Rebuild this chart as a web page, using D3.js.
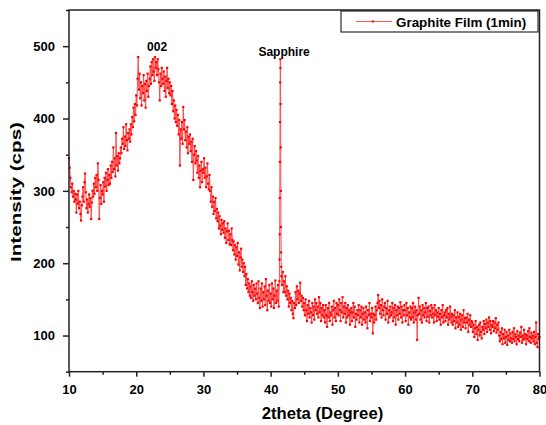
<!DOCTYPE html>
<html>
<head>
<meta charset="utf-8">
<script src="https://cdn.jsdelivr.net/npm/d3@7"></script>
<style>
body { margin:0; background:#fff; }
svg text { font-family:"Liberation Sans", Arial, sans-serif; font-weight:bold; fill:#000; }
</style>
</head>
<body>
<svg width="546" height="425"></svg>
<script>
//scan settings
var thetaStart = 10;
var thetaStep = 0.1;

//counts, 10 to 80 degrees, one row per degree
var counts = [
345,332,318,305,298,310,292,300,285,296,
288,270,295,282,300,276,285,268,259,280,
292,305,285,312,324,298,276,288,270,282,
295,278,290,261,284,300,292,310,296,318,
305,322,300,338,315,261,290,308,282,300,
295,312,285,318,306,325,300,315,330,308,
322,310,335,318,340,326,360,330,345,320,
380,335,348,328,352,338,345,360,352,372,
365,388,358,375,362,392,370,356,380,372,
385,368,392,378,402,388,415,396,420,405,
432,418,455,485,440,462,428,450,418,445,
435,460,425,448,415,452,438,462,430,445,
455,472,448,478,460,482,465,452,485,470,
478,460,482,468,450,425,462,445,470,455,
448,465,438,458,430,452,470,442,455,435,
450,432,445,420,438,410,425,400,418,395,
412,390,405,378,398,335,385,372,395,365,
416,385,398,370,382,360,388,352,375,365,
378,355,368,340,372,315,350,362,338,355,
342,325,348,318,335,305,328,340,312,330,
325,345,318,332,305,320,338,310,302,322,
300,285,305,278,292,268,285,272,290,262,
275,258,270,248,265,252,240,260,246,255,
242,258,235,248,228,244,255,232,245,226,
240,225,248,232,218,230,212,225,205,222,
210,228,198,215,190,208,220,195,205,188,
200,182,195,170,185,165,178,160,172,155,
168,152,175,160,148,170,155,165,150,172,
158,145,175,152,138,165,148,172,140,160,
150,168,142,178,155,135,162,148,170,145,
158,140,172,150,165,138,155,176,145,162,
148,170,140,175,395,360,182,170,188,160,
175,160,182,155,168,150,162,140,158,145,
152,135,148,130,124,145,138,160,142,168,
150,162,145,158,173,148,155,140,152,135,
145,128,150,135,120,142,130,148,125,138,
132,118,145,128,140,122,150,135,145,130,
140,125,153,132,145,120,138,128,142,125,
135,118,142,128,112,138,125,145,120,132,
128,140,115,135,148,125,138,120,145,130,
142,128,150,135,120,145,132,153,125,140,
130,145,118,138,125,142,128,135,115,132,
138,120,132,145,125,140,112,130,122,135,
128,142,118,135,125,140,115,130,138,122,
132,118,140,125,110,135,128,145,120,130,
125,138,103,130,118,128,140,122,135,145,
156,138,148,130,142,125,150,135,128,140,
145,122,138,130,148,118,135,125,140,128,
132,145,120,138,125,142,115,135,128,140,
122,138,130,146,125,140,118,135,128,142,
135,120,145,128,138,115,132,125,140,122,
138,125,145,118,132,140,122,135,94,128,
152,130,140,122,135,118,142,128,138,125,
132,145,120,138,126,140,118,134,128,142,
125,138,130,118,142,128,135,120,132,126,
138,122,130,115,135,125,142,118,128,132,
120,135,125,138,115,130,122,140,126,118,
130,115,128,120,135,110,125,118,132,112,
126,115,130,108,122,128,112,135,118,124,
110,125,118,130,105,122,115,128,112,120,
118,105,115,98,110,120,102,112,94,108,
115,100,118,105,96,112,108,120,102,116,
110,122,105,118,112,125,108,120,103,115,
112,120,106,118,110,124,104,115,108,118,
100,92,105,95,110,88,102,96,108,90,
98,105,87,100,94,108,92,103,96,90,
105,95,110,92,102,98,88,106,95,100,
92,104,98,112,90,100,94,108,96,102,
88,100,95,106,92,110,98,90,104,96,
100,92,105,88,98,118,90,84,102,95,
98
];

//finer points on the sapphire peak
var peakTheta = [41.32,41.34,41.36,41.38,41.42,41.44,41.46,41.48,41.52,41.54,41.56,41.58];
var peakCounts = [205,240,290,340,450,482,470,420,300,250,215,195];

var xTicks = [10,20,30,40,50,60,70,80];
var yTicks = [100,200,300,400,500];
var seriesName = "Graphite Film (1min)";
var notes = [{text:"002",theta:23.1,counts:493},
             {text:"Sapphire",theta:42.0,counts:487}];

var buildPoints = function()
{
    var pts = counts.map(function(c,i)
        { return {theta:+(thetaStart+i*thetaStep).toFixed(2),counts:c}; });
    peakTheta.forEach(function(t,i)
        { pts.push({theta:t,counts:peakCounts[i]}); });
    pts.sort(function(a,b){ return a.theta-b.theta; });
    return pts;
}

var initGraph = function()
{
    var svg = d3.select("svg");
    var plot = {left:69,right:539.5,top:10,bottom:371.7};

    var xScale = d3.scaleLinear()
        .domain([10,80])
        .range([plot.left,plot.right]);
    var yScale = d3.scaleLinear()
        .domain([50,550])
        .range([plot.bottom,plot.top]);

    var points = buildPoints();

    //data
    var lineGenerator = d3.line()
        .x(function(d){ return xScale(d.theta); })
        .y(function(d){ return yScale(d.counts); });

    svg.append("path")
        .datum(points)
        .attr("fill","none")
        .attr("stroke","#ff4d4d")
        .attr("stroke-width",1)
        .attr("d",lineGenerator);

    svg.append("g")
        .selectAll("rect")
        .data(points)
        .enter()
        .append("rect")
        .attr("x",function(d){ return xScale(d.theta)-1.1; })
        .attr("y",function(d){ return yScale(d.counts)-1.1; })
        .attr("width",2.2)
        .attr("height",2.2)
        .attr("fill","#ff0000");

    //frame
    svg.append("rect")
        .attr("x",plot.left)
        .attr("y",plot.top)
        .attr("width",plot.right-plot.left)
        .attr("height",plot.bottom-plot.top)
        .attr("fill","none")
        .attr("stroke","#222")
        .attr("stroke-width",1.5);

    //axes with minor ticks
    var xMinor = d3.axisBottom(xScale).tickValues(d3.range(15,80,10))
        .tickSize(3).tickFormat("");
    var xAxis = d3.axisBottom(xScale).tickValues(xTicks)
        .tickSize(5).tickPadding(8).tickSizeOuter(0);
    var yMinor = d3.axisLeft(yScale).tickValues([50,150,250,350,450,550])
        .tickSize(3).tickFormat("");
    var yAxis = d3.axisLeft(yScale).tickValues(yTicks)
        .tickSize(6).tickPadding(8).tickSizeOuter(0);

    var gx = svg.append("g")
        .attr("transform","translate(0,"+plot.bottom+")");
    gx.call(xAxis);
    gx.append("g").call(xMinor);
    var gy = svg.append("g")
        .attr("transform","translate("+plot.left+",0)");
    gy.call(yAxis);
    gy.append("g").call(yMinor);

    svg.selectAll(".domain").remove();
    svg.selectAll(".tick line")
        .attr("stroke","#222")
        .attr("stroke-width",1.5);
    svg.selectAll(".tick text")
        .style("font-size","13px")
        .style("font-family","'Liberation Sans', Arial, sans-serif")
        .style("font-weight","bold")
        .attr("fill","#000");

    //labels
    svg.append("text")
        .text("2theta (Degree)")
        .attr("text-anchor","middle")
        .attr("x",322.5)
        .attr("y",418.5)
        .style("font-size","16.7px");

    svg.append("text")
        .text("Intensity (cps)")
        .attr("text-anchor","middle")
        .attr("transform","translate(21,192) rotate(-90)")
        .attr("textLength",140)
        .attr("lengthAdjust","spacingAndGlyphs")
        .style("font-size","15px");

    svg.selectAll(".note")
        .data(notes)
        .enter()
        .append("text")
        .classed("note",true)
        .text(function(d){ return d.text; })
        .attr("text-anchor","middle")
        .attr("x",function(d){ return xScale(d.theta); })
        .attr("y",function(d){ return yScale(d.counts); })
        .style("font-size","12px");

    //legend
    var legend = svg.append("g");
    legend.append("rect")
        .attr("x",341).attr("y",11)
        .attr("width",197).attr("height",21)
        .attr("fill","#fff")
        .attr("stroke","#000")
        .attr("stroke-width",1);
    legend.append("line")
        .attr("x1",356).attr("x2",392)
        .attr("y1",21.5).attr("y2",21.5)
        .attr("stroke","#ff5a5a")
        .attr("stroke-width",1);
    legend.append("rect")
        .attr("x",372).attr("y",20.5)
        .attr("width",2).attr("height",2)
        .attr("fill","#ff0000");
    legend.append("text")
        .text(seriesName)
        .attr("x",396)
        .attr("y",26.7)
        .style("font-size","13.4px");
}

initGraph();
</script>
</body>
</html>
